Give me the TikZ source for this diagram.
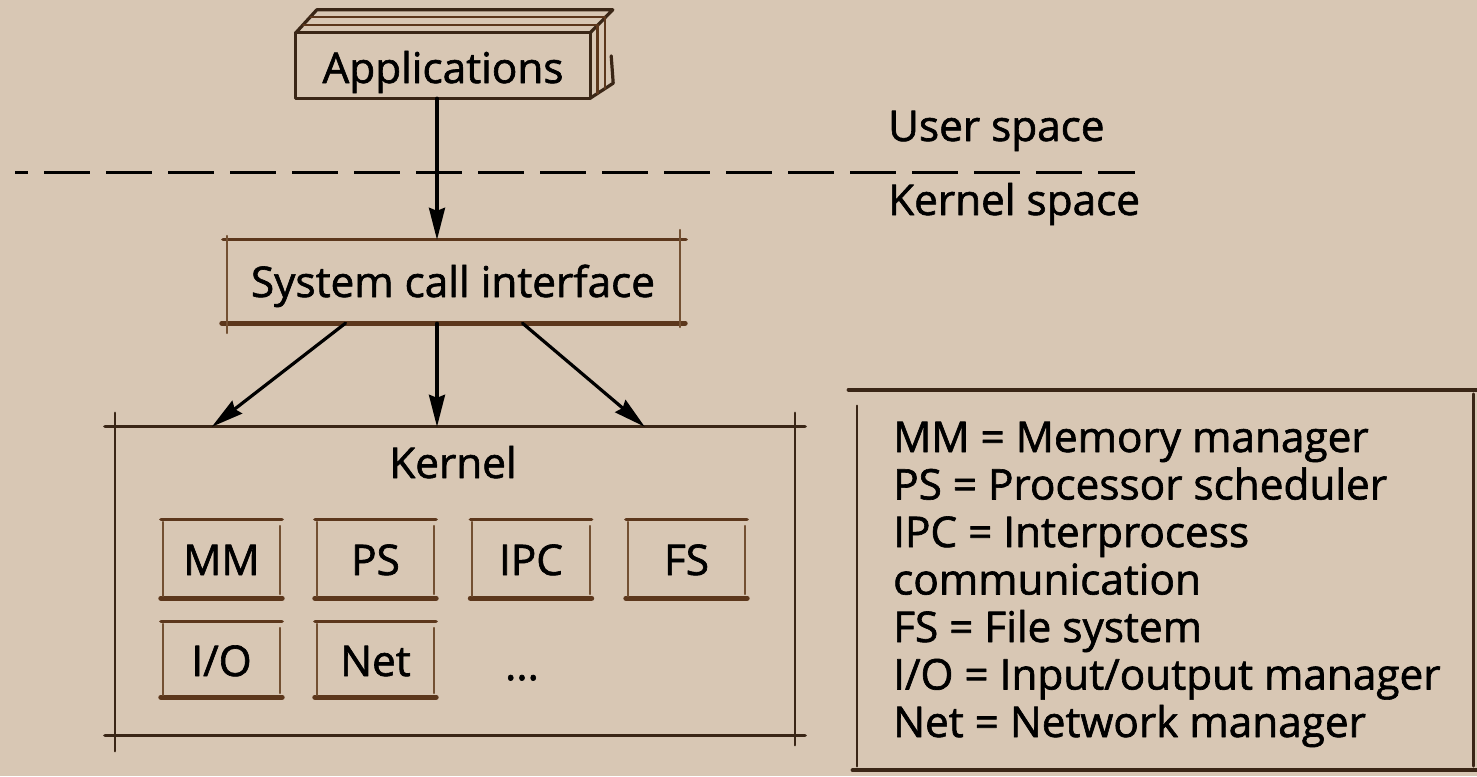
\documentclass[tikz,border=0pt]{standalone}
\usepackage{fontspec}
\setmainfont{Open Sans}[FakeBold=1.5]
\usetikzlibrary{arrows.meta}
\definecolor{bgc}{RGB}{216,199,180}
\definecolor{lnc}{RGB}{58,38,22}
\definecolor{shc}{RGB}{92,55,28}
\definecolor{sdc}{RGB}{115,80,50}
\begin{document}
\begin{tikzpicture}[x=1pt,y=-1pt,line cap=round,line join=round,
  txt/.style={font=\fontsize{42.3}{50}\selectfont,text=black,inner sep=0pt},
  ln/.style={draw=lnc,line width=3.2pt},
  thinln/.style={draw=sdc,line width=1.8pt},
  topln/.style={draw=shc,line width=3.2pt},
  botln/.style={draw=shc,line width=5pt},
  arr/.style={draw=black,line width=3.2pt,-{Stealth[length=32pt,width=16pt,inset=3pt]}},
  smallbox/.style={draw=none,inner sep=0pt,minimum width=117pt,minimum height=78pt}]
\fill[bgc] (0,0) rectangle (1477,776);
\useasboundingbox (0,0) rectangle (1477,776);

% ---------- Applications (3D stack) ----------
\node[draw=none,inner sep=0pt,minimum width=294pt,minimum height=65pt] (apps) at (443,65.5) {};
\node[txt,anchor=base] (appst) at (443,83) {Applications};
\draw[ln] (apps.north west) rectangle (apps.south east);
\draw[ln] (apps.north west) -- ++(21,-23) -- ++(296,0) -- (apps.north east);
\draw[ln] ([yshift=-23pt,xshift=21pt]apps.north east) -- ([xshift=23pt,yshift=15pt]apps.south east) -- (apps.south east);
\draw[topln,line width=2.2pt] ([xshift=7.3pt,yshift=8pt]apps.north west) -- ([xshift=7.3pt,yshift=8pt]apps.north east);
\draw[topln,line width=2.2pt] ([xshift=14.6pt,yshift=16pt]apps.north west) -- ([xshift=14.6pt,yshift=16pt]apps.north east);
\draw[topln,line width=2.2pt] ([xshift=7.3pt,yshift=8pt]apps.north east) -- ([xshift=7.3pt,yshift=4.8pt]apps.south east);
\draw[topln,line width=2.2pt] ([xshift=14.6pt,yshift=16pt]apps.north east) -- ([xshift=14.6pt,yshift=9.5pt]apps.south east);

% ---------- space separator ----------
\coordinate (dl) at (15,172);
\coordinate (dr) at (1135,172);
\draw[draw=black,line width=3pt,line cap=butt,dash pattern=on 46pt off 16pt,dash phase=33pt] (dl) -- (dr);
\node[txt,anchor=base west] (user) at (888,141) {User space};
\node[txt,anchor=base west] (kspace) at (888,215) {Kernel space};

% ---------- System call interface ----------
\node[draw=none,inner sep=0pt,minimum width=453pt,minimum height=83pt] (sci) at (453.5,281.5) {};
\node[txt,anchor=base] (scit) at (453,297) {System call interface};
\draw[topln] ([xshift=-4pt]sci.north west) -- ([xshift=6pt]sci.north east);
\draw[botln] ([xshift=-5pt]sci.south west) -- ([xshift=5pt]sci.south east);
\draw[thinln] ([yshift=4pt]sci.north west) -- ([yshift=-10pt]sci.south west);
\draw[thinln] ([yshift=10pt]sci.north east) -- ([yshift=-4pt]sci.south east);

\draw[arr] (apps.south -| 437,0) -- (sci.north -| 437,0);

% ---------- Kernel ----------
\node[draw=none,inner sep=0pt,minimum width=680pt,minimum height=308pt] (kern) at (455,581) {};
\node[txt,anchor=base] (kt) at (453,478) {Kernel};
\draw[ln] ([xshift=-10pt]kern.north west) -- ([xshift=10pt]kern.north east);
\draw[ln] ([xshift=-10pt]kern.south west) -- ([xshift=10pt]kern.south east);
\draw[ln,line width=2.4pt] ([yshift=14pt]kern.north west) -- ([yshift=-16pt]kern.south west);
\draw[ln,line width=2.4pt] ([yshift=14pt]kern.north east) -- ([yshift=-10pt]kern.south east);

\draw[arr] ([xshift=-108pt]sci.south) -- ([xshift=97pt]kern.north west);
\draw[arr] (sci.south -| 437,0) -- (kern.north -| 437,0);
\draw[arr] ([xshift=69pt]sci.south) -- ([xshift=530pt]kern.north west);

% ---------- modules ----------
\node[smallbox] (mm)  at (221.5,559) {};
\node[smallbox] (ps)  at (375.5,559) {};
\node[smallbox] (ipc) at (531,559) {};
\node[smallbox] (fs)  at (686.5,559) {};
\node[smallbox,minimum height=75pt] (io)  at (221.5,659.5) {};
\node[smallbox,minimum height=75pt] (net) at (375.5,659.5) {};
\foreach \b in {mm,ps,ipc,fs,io,net}{
  \draw[topln] ([xshift=-2pt]\b.north west) -- ([xshift=2pt]\b.north east);
  \draw[botln] ([xshift=-2pt]\b.south west) -- ([xshift=2pt]\b.south east);
  \draw[thinln] ([yshift=-2pt]\b.north west) -- ([yshift=2pt]\b.south west);
  \draw[thinln] ([yshift=-6pt]\b.north east) -- ([yshift=4pt]\b.south east);
}
\node[txt,anchor=base] (mmt)  at (221.5,575) {MM};
\node[txt,anchor=base] (pst)  at (375.5,575) {PS};
\node[txt,anchor=base] (ipct) at (531,575) {IPC};
\node[txt,anchor=base] (fst)  at (686.5,575) {FS};
\node[txt,anchor=base] (iot)  at (221.5,676) {I/O};
\node[txt,anchor=base] (nett) at (375.5,676) {Net};
\node[txt,anchor=base] (dots) at (522,680) {...};

% ---------- legend ----------
\node[draw=none,inner sep=0pt,minimum width=616pt,minimum height=380pt] (leg) at (1165,580) {};
\draw[draw=lnc,line width=4.4pt] ([xshift=-8pt]leg.north west) -- ([xshift=6pt]leg.north east);
\draw[draw=lnc,line width=4.4pt] ([xshift=-4pt]leg.south west) -- ([xshift=6pt]leg.south east);
\draw[ln,line width=2.6pt] ([yshift=-16pt]leg.north west) -- ([yshift=4pt]leg.south west);
\draw[ln,line width=2.6pt] ([yshift=-4pt]leg.north east) -- ([yshift=4pt]leg.south east);
\node[txt,anchor=base west] (l1) at (893,452) {MM = Memory manager};
\node[txt,anchor=base west] (l2) at (893,499.5) {PS = Processor scheduler};
\node[txt,anchor=base west] (l3) at (893,547) {IPC = Interprocess};
\node[txt,anchor=base west] (l4) at (893,594.5) {communication};
\node[txt,anchor=base west] (l5) at (893,642) {FS = File system};
\node[txt,anchor=base west] (l6) at (893,689.5) {I/O = Input/output manager};
\node[txt,anchor=base west] (l7) at (893,737) {Net = Network manager};
\end{tikzpicture}
\end{document}
